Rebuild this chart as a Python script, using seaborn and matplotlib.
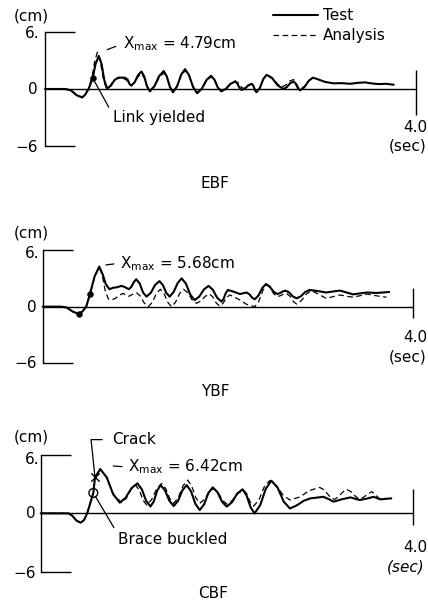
import matplotlib
matplotlib.use("Agg")
import matplotlib.pyplot as plt
import seaborn as sns

# ---------------- data (time in s, displacement in cm) ----------------
ebf_test_t = [0.00, 0.22, 0.28, 0.34, 0.40, 0.43, 0.47, 0.514, 0.545, 0.58, 0.61, 0.64, 0.67,
              0.71, 0.75, 0.79, 0.86, 0.89, 0.91, 0.93, 0.967, 1.003, 1.04, 1.07, 1.10, 1.13,
              1.18, 1.23, 1.28, 1.313, 1.347, 1.38, 1.423, 1.467, 1.51, 1.553, 1.597, 1.64,
              1.69, 1.74, 1.79, 1.827, 1.863, 1.90, 1.95, 2.00, 2.05, 2.073, 2.097, 2.12,
              2.157, 2.193, 2.23, 2.247, 2.263, 2.28, 2.317, 2.353, 2.39, 2.45, 2.51, 2.57,
              2.607, 2.643, 2.68, 2.703, 2.727, 2.75, 2.797, 2.843, 2.89, 2.95, 3.02, 3.11,
              3.20, 3.29, 3.37, 3.45, 3.53, 3.60, 3.68, 3.76]
ebf_test_v = [0.00, 0.00, -0.15, -0.65, -0.90, -0.65, 0.00, 1.16, 2.65, 3.50, 2.65, 0.90, 0.05,
              0.35, 0.95, 1.20, 1.20, 1.00, 0.55, 0.35, 0.72, 1.47, 1.85, 1.33, 0.27, -0.25,
              0.29, 1.36, 1.90, 1.34, 0.21, -0.35, 0.26, 1.49, 2.10, 1.46, 0.19, -0.45,
              0.01, 0.94, 1.40, 0.99, 0.16, -0.25, 0.01, 0.54, 0.80, 0.58, 0.13, -0.10,
              0.06, 0.39, 0.55, 0.33, -0.13, -0.35, 0.11, 1.04, 1.50, 1.13, 0.38, 0.00,
              0.20, 0.60, 0.80, 0.56, 0.09, -0.15, 0.19, 0.86, 1.20, 1.00, 0.75, 0.60,
              0.62, 0.55, 0.65, 0.70, 0.58, 0.52, 0.55, 0.45]
ebf_ana_t = [0.00, 0.22, 0.28, 0.34, 0.40, 0.43, 0.47, 0.51, 0.535, 0.565, 0.595, 0.63, 0.66,
             0.70, 0.74, 0.79, 0.86, 0.89, 0.91, 0.93, 0.967, 1.003, 1.04, 1.07, 1.10, 1.13,
             1.18, 1.23, 1.28, 1.313, 1.347, 1.38, 1.423, 1.467, 1.51, 1.553, 1.597, 1.64,
             1.69, 1.74, 1.79, 1.827, 1.863, 1.90, 1.95, 2.00, 2.05, 2.09, 2.12, 2.15,
             2.19, 2.23, 2.25, 2.265, 2.28, 2.317, 2.353, 2.39, 2.45, 2.51, 2.55, 2.60,
             2.64, 2.68, 2.70, 2.73, 2.75, 2.80, 2.85, 2.89]
ebf_ana_v = [0.00, 0.00, -0.15, -0.60, -0.85, -0.60, 0.05, 1.40, 2.90, 3.90, 3.00, 1.00, 0.10,
             0.30, 0.90, 1.15, 1.05, 0.85, 0.55, 0.40, 0.70, 1.30, 1.60, 1.20, 0.30, -0.15,
             0.30, 1.20, 1.70, 1.25, 0.25, -0.25, 0.30, 1.40, 1.95, 1.40, 0.25, -0.35,
             0.05, 0.85, 1.30, 0.95, 0.20, -0.15, 0.05, 0.55, 0.85, 0.60, 0.15, 0.05,
             0.40, 0.55, 0.30, -0.10, -0.30, 0.15, 1.05, 1.55, 1.20, 0.50, 0.20, 0.45,
             0.85, 1.00, 0.75, 0.20, 0.00, 0.30, 0.95, 1.25]

ybf_test_t = [0.00, 0.20, 0.26, 0.32, 0.39, 0.43, 0.47, 0.51, 0.56, 0.61, 0.645, 0.68, 0.72,
              0.76, 0.80, 0.85, 0.88, 0.93, 0.957, 0.983, 1.01, 1.047, 1.083, 1.12, 1.167,
              1.213, 1.26, 1.297, 1.333, 1.37, 1.413, 1.457, 1.50, 1.547, 1.593, 1.64, 1.69,
              1.74, 1.79, 1.837, 1.883, 1.93, 1.953, 1.977, 2.00, 2.07, 2.13, 2.20, 2.23,
              2.26, 2.29, 2.33, 2.37, 2.41, 2.45, 2.49, 2.53, 2.56, 2.59, 2.62, 2.66, 2.70,
              2.74, 2.787, 2.833, 2.88, 2.97, 3.06, 3.13, 3.21, 3.28, 3.35, 3.42, 3.50,
              3.60, 3.74]
ybf_test_v = [0.00, 0.00, -0.10, -0.50, -0.78, -0.50, 0.00, 1.34, 3.20, 4.24, 3.50, 2.40, 1.85,
              2.00, 2.05, 2.20, 2.10, 1.85, 2.10, 2.60, 2.90, 2.45, 1.50, 1.06, 1.47,
              2.30, 2.70, 2.29, 1.47, 1.06, 1.55, 2.50, 3.00, 2.42, 1.27, 0.70, 1.07,
              1.82, 2.20, 1.78, 0.94, 0.53, 0.84, 1.46, 1.77, 1.55, 1.34, 1.50, 1.32,
              0.96, 0.78, 1.20, 1.98, 2.40, 2.13, 1.60, 1.34, 1.43, 1.60, 1.70, 1.50, 1.08,
              0.88, 1.10, 1.55, 1.77, 1.65, 1.50, 1.60, 1.70, 1.50, 1.30, 1.40, 1.50,
              1.45, 1.55]
ybf_ana_t = [0.00, 0.20, 0.26, 0.32, 0.39, 0.43, 0.47, 0.51, 0.56, 0.61, 0.643, 0.677, 0.71,
             0.74, 0.783, 0.827, 0.87, 0.90, 0.93, 0.97, 1.01, 1.053, 1.097, 1.14, 1.183,
             1.227, 1.27, 1.31, 1.35, 1.39, 1.433, 1.477, 1.52, 1.567, 1.613, 1.66, 1.707,
             1.753, 1.80, 1.837, 1.873, 1.91, 1.947, 1.983, 2.02, 2.07, 2.13, 2.19, 2.24,
             2.29, 2.333, 2.377, 2.42, 2.457, 2.493, 2.53, 2.563, 2.597, 2.63, 2.667, 2.703,
             2.74, 2.793, 2.847, 2.90, 2.98, 3.06, 3.13, 3.21, 3.28, 3.35, 3.42, 3.50,
             3.60, 3.71]
ybf_ana_v = [0.00, 0.00, -0.10, -0.50, -0.75, -0.50, 0.00, 1.30, 3.10, 4.20, 3.30, 1.60, 0.80,
             0.70, 0.87, 1.22, 1.40, 1.20, 1.10, 1.30, 1.50, 1.12, 0.37, 0.00, 0.46,
             1.38, 1.84, 1.38, 0.46, 0.00, 0.46, 1.38, 1.84, 1.47, 0.72, 0.35, 0.60,
             1.09, 1.34, 1.02, 0.39, 0.07, 0.36, 0.95, 1.24, 1.00, 0.70, 0.30, 0.10,
             0.00, 0.58, 1.73, 2.30, 1.99, 1.37, 1.06, 1.15, 1.31, 1.40, 1.12, 0.56,
             0.28, 0.64, 1.34, 1.70, 1.30, 0.88, 1.05, 1.24, 1.10, 1.00, 1.15, 1.34,
             1.15, 1.00]

cbf_test_t = [0.00, 0.30, 0.34, 0.385, 0.43, 0.465, 0.50, 0.566, 0.584, 0.64, 0.71, 0.78, 0.85,
              0.913, 0.977, 1.04, 1.087, 1.133, 1.18, 1.217, 1.253, 1.29, 1.337, 1.383, 1.43,
              1.477, 1.523, 1.57, 1.617, 1.663, 1.71, 1.757, 1.803, 1.85, 1.90, 1.95, 2.00,
              2.057, 2.113, 2.17, 2.213, 2.257, 2.30, 2.36, 2.42, 2.48, 2.547, 2.613, 2.68,
              2.75, 2.83, 2.90, 3.04, 3.10, 3.15, 3.24, 3.33, 3.43, 3.50, 3.58, 3.65, 3.72,
              3.77]
cbf_test_v = [0.00, 0.00, -0.25, -0.75, -0.96, -0.70, 0.00, 2.10, 3.70, 4.55, 3.70, 1.95, 1.10,
              1.60, 2.60, 3.08, 2.48, 1.30, 0.70, 1.25, 2.35, 2.90, 2.35, 1.30, 0.75,
              1.29, 2.36, 2.90, 2.26, 0.98, 0.34, 0.92, 2.09, 2.67, 2.18, 1.19, 0.70,
              1.14, 2.03, 2.47, 1.85, 0.62, 0.00, 0.84, 2.52, 3.36, 2.65, 1.21, 0.50,
              0.80, 1.30, 1.54, 1.70, 1.45, 1.20, 1.45, 1.64, 1.37, 1.50, 1.70, 1.44, 1.50,
              1.54]
cbf_ana_t = [0.00, 0.30, 0.34, 0.385, 0.43, 0.465, 0.50, 0.566, 0.584, 0.64, 0.71, 0.78, 0.87,
             0.92, 0.97, 1.02, 1.06, 1.10, 1.14, 1.193, 1.247, 1.30, 1.343, 1.387, 1.43,
             1.48, 1.53, 1.58, 1.623, 1.667, 1.71, 1.76, 1.81, 1.86, 1.907, 1.953, 2.00,
             2.06, 2.12, 2.18, 2.217, 2.253, 2.29, 2.347, 2.403, 2.46, 2.533, 2.607, 2.68,
             2.79, 2.89, 3.00, 3.05, 3.11, 3.16, 3.20, 3.25, 3.29, 3.34, 3.39, 3.43, 3.47,
             3.52, 3.56, 3.60, 3.65, 3.72]
cbf_ana_v = [0.00, 0.00, -0.25, -0.75, -0.96, -0.70, 0.00, 2.10, 3.70, 4.55, 3.70, 1.95, 1.10,
             1.55, 2.45, 2.90, 2.40, 1.35, 0.86, 1.42, 2.52, 3.08, 2.57, 1.54, 1.03,
             1.63, 2.82, 3.42, 2.82, 1.63, 1.03, 1.42, 2.18, 2.57, 2.17, 1.36, 0.96,
             1.32, 2.04, 2.40, 2.00, 1.15, 0.75, 1.40, 2.72, 3.36, 2.86, 1.87, 1.37,
             1.70, 2.35, 2.67, 2.40, 1.70, 1.44, 1.70, 2.20, 2.47, 2.20, 1.70, 1.44, 1.65,
             2.00, 2.23, 1.90, 1.44, 1.54]

# event markers
ebf_yield_t, ebf_yield_v = [0.514], [1.16]
ybf_dot_t, ybf_dot_v = [0.39, 0.51], [-0.78, 1.34]
cbf_crack_t, cbf_crack_v = [0.584], [3.70]
cbf_buckle_t, cbf_buckle_v = [0.566], [2.10]

panel_titles = ["EBF", "YBF", "CBF"]
xmax_labels = ["4.79cm", "5.68cm", "6.42cm"]
legend_labels = ["Test", "Analysis"]

# ---------------- figure ----------------
sns.set_style("white")
plt.rcParams["font.family"] = ["DejaVu Sans"]
plt.rcParams["text.color"] = "black"
W, H = 428, 605
fig = plt.figure(figsize=(W / 100, H / 100), dpi=100)
fig.patch.set_facecolor("white")

FS = 11
K = "black"


def ftext(px, py, s, **kw):
    kw.setdefault("fontsize", FS)
    fig.text(px / W, 1 - py / H, s, color=K, **kw)


# pixel geometry: (x at t=0, x at t=4, y at +6, y at -6, 4.0-tick lower, upper)
geom = [
    (45.0, 416.0, 32.3, 145.7, -2.7, 1.96),
    (42.7, 413.3, 250.0, 363.3, -1.24, 1.94),
    (40.7, 412.7, 455.0, 571.7, -1.2, 2.47),
]
series = [
    (ebf_test_t, ebf_test_v, ebf_ana_t, ebf_ana_v),
    (ybf_test_t, ybf_test_v, ybf_ana_t, ybf_ana_v),
    (cbf_test_t, cbf_test_v, cbf_ana_t, cbf_ana_v),
]
# text pixel positions per panel
txt = [
    dict(cm=(31, 16), six=(40, 33), zero=(33, 89), msix=(38, 147), four=(427, 127), sec=(426, 146), title=(215, 183)),
    dict(cm=(31, 233), six=(40, 253), zero=(32, 307), msix=(37, 363), four=(427, 337), sec=(426, 357), title=(215, 392)),
    dict(cm=(31, 437), six=(39, 460), zero=(31, 513), msix=(36, 573), four=(427, 547), sec=(425, 567), title=(213, 593)),
]

axes = []
handles = []
for i, ((x0, x4, y6, ym6, lo, hi), (tt, tv, at, av)) in enumerate(zip(geom, series)):
    ax = fig.add_axes([x0 / W, 1 - ym6 / H, (x4 - x0) / W, (ym6 - y6) / H])
    ax.set_xlim(0, 4.0)
    ax.set_ylim(-6, 6)
    ax.patch.set_alpha(0)
    for s in ["top", "right", "bottom"]:
        ax.spines[s].set_visible(False)
    ax.spines["left"].set_color(K)
    ax.spines["left"].set_linewidth(1.0)
    ax.set_xticks([])
    ax.set_yticks([-6, 6])
    ax.set_yticklabels([])
    ax.tick_params(axis="y", direction="in", length=21.5, width=1.0, color=K, left=True)
    ax.axhline(0, color=K, lw=1.0, zorder=1)
    ax.vlines(4.0, lo, hi, color=K, lw=1.0, clip_on=False)

    sns.lineplot(x=at, y=av, ax=ax, color=K, lw=0.9, sort=False, estimator=None,
                 linestyle=(0, (4.5, 2.8)), zorder=3, clip_on=False)
    h_ana = ax.lines[-1]
    sns.lineplot(x=tt, y=tv, ax=ax, color=K, lw=1.5, sort=False, estimator=None,
                 zorder=4, clip_on=False)
    h_test = ax.lines[-1]
    if i == 0:
        handles = [h_test, h_ana]
    ax.set_xlabel("")
    ax.set_ylabel("")
    if ax.get_legend() is not None:
        ax.get_legend().remove()

    p = txt[i]
    ftext(*p["cm"], "(cm)", ha="center", va="center")
    ftext(*p["six"], "6.", ha="right", va="center")
    ftext(*p["zero"], "0", ha="center", va="center")
    ftext(*p["msix"], "\u22126", ha="right", va="center")
    ftext(*p["four"], "4.0", ha="right", va="center")
    ftext(*p["sec"], "(sec)", ha="right", va="center",
          style="italic" if i == 2 else "normal")
    ftext(*p["title"], panel_titles[i], ha="center", va="center")
    axes.append(ax)

arrow = dict(arrowstyle="-", color=K, lw=0.9)

# ---- EBF annotations
ax = axes[0]
sns.scatterplot(x=ebf_yield_t, y=ebf_yield_v, ax=ax, color=K, s=18, zorder=5, edgecolor=K)
ax.annotate(r"X$_{\mathregular{max}}$ = " + xmax_labels[0], xy=(0.67, 4.16), xytext=(0.84, 4.8),
            ha="left", va="center", fontsize=FS, color=K,
            arrowprops=dict(arrow, relpos=(0, 0.5), shrinkA=3, shrinkB=0))
ax.annotate("Link yielded", xy=(ebf_yield_t[0], ebf_yield_v[0]), xytext=(0.73, -3.0),
            ha="left", va="center", fontsize=FS, color=K,
            arrowprops=dict(arrow, relpos=(0, 0.7), shrinkA=1, shrinkB=0))
leg = ax.legend(handles, legend_labels, loc="upper left", frameon=False, fontsize=FS,
                bbox_to_anchor=(273 / W, 1 - 8 / H), bbox_transform=fig.transFigure,
                borderpad=0, borderaxespad=0, handlelength=2.95, handletextpad=0.3,
                labelspacing=0.33)
for t in leg.get_texts():
    t.set_color(K)

# ---- YBF annotations
ax = axes[1]
sns.scatterplot(x=ybf_dot_t, y=ybf_dot_v, ax=ax, color=K, s=18, zorder=5, edgecolor=K)
ax.annotate(r"X$_{\mathregular{max}}$ = " + xmax_labels[1], xy=(0.683, 4.42), xytext=(0.834, 4.6),
            ha="left", va="center", fontsize=FS, color=K,
            arrowprops=dict(arrow, relpos=(0, 0.5), shrinkA=2, shrinkB=0))

# ---- CBF annotations
ax = axes[2]
sns.scatterplot(x=cbf_buckle_t, y=cbf_buckle_v, ax=ax, s=40, zorder=5,
                facecolor="none", edgecolor=K, linewidth=1.0)
sns.scatterplot(x=cbf_crack_t, y=cbf_crack_v, ax=ax, marker="x", s=36, zorder=5,
                color=K, linewidth=1.0)
ax.annotate(r"X$_{\mathregular{max}}$ = " + xmax_labels[2], xy=(0.78, 4.87), xytext=(0.94, 4.76),
            ha="left", va="center", fontsize=FS, color=K,
            arrowprops=dict(arrow, relpos=(0, 0.5), shrinkA=2, shrinkB=0))
ax.annotate("Crack", xy=(cbf_crack_t[0], cbf_crack_v[0]), xytext=(0.77, 7.58),
            ha="left", va="center", fontsize=FS, color=K, annotation_clip=False,
            arrowprops=dict(arrow, relpos=(0, 0.5), shrinkA=5, shrinkB=0,
                            connectionstyle="angle,angleA=0,angleB=96,rad=0"))
ax.annotate("Brace buckled", xy=(cbf_buckle_t[0], cbf_buckle_v[0]), xytext=(0.83, -2.7),
            ha="left", va="center", fontsize=FS, color=K,
            arrowprops=dict(arrow, relpos=(0, 0.85), shrinkA=1, shrinkB=3))

fig.savefig("out.png", dpi=100, facecolor="white")
